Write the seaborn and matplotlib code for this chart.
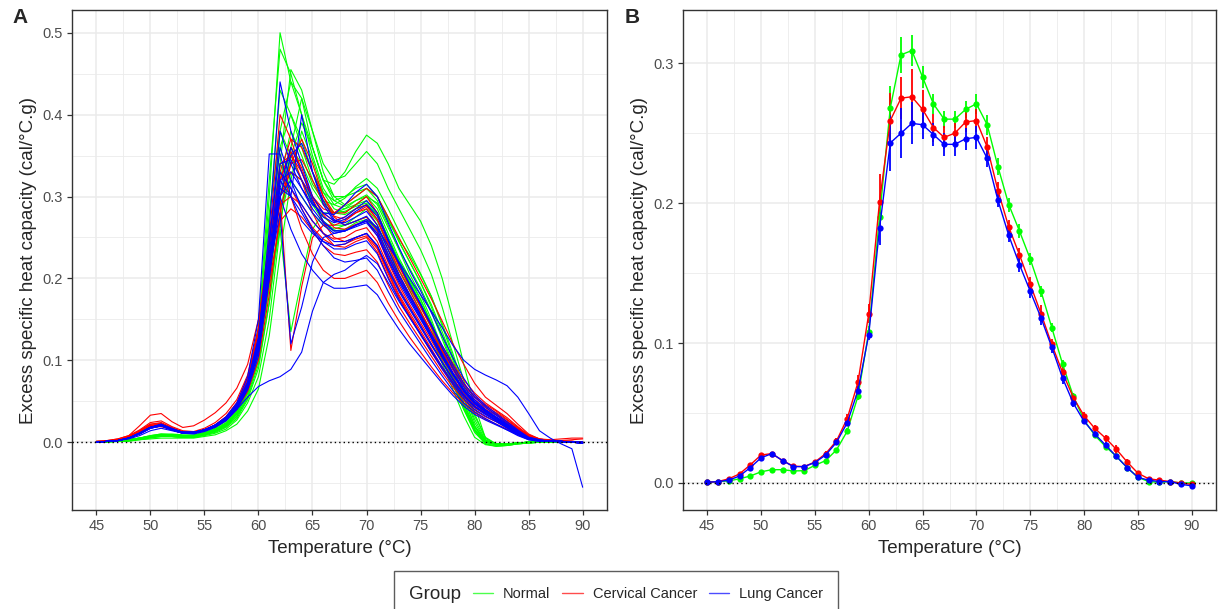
import matplotlib
matplotlib.use("Agg")
import numpy as np
import pandas as pd
import seaborn as sns
import matplotlib.pyplot as plt
from matplotlib.lines import Line2D
from matplotlib.ticker import MultipleLocator

# %%
temperature = list(range(45, 91))
groups = ["Normal", "Cervical Cancer", "Lung Cancer"]
palette = {"Normal": "#00FF00", "Cervical Cancer": "#FF0000", "Lung Cancer": "#0000FF"}

# panel A: single thermograms, excess cp x 1000, one value per degree 45..90
normal_curves = [
    [0, 1, 1, 2, 4, 6, 8, 7, 6, 6, 9, 13, 20, 35, 65, 130, 300, 500, 440, 400, 360, 320, 300, 300, 305, 310, 295, 265, 235, 205, 180, 150, 115, 80, 45, 15, -2, -5, -4, -2, -1, 0, 0, 0, 0, 0],
    [0, 1, 2, 3, 5, 7, 9, 9, 8, 8, 11, 15, 22, 36, 62, 110, 220, 380, 440, 420, 360, 320, 315, 330, 355, 375, 365, 340, 310, 290, 270, 240, 200, 150, 95, 45, 5, -3, -4, -2, -1, 0, 0, 0, 0, 0],
    [0, 1, 1, 2, 4, 6, 8, 8, 7, 7, 10, 14, 21, 35, 66, 140, 320, 480, 450, 400, 350, 310, 290, 285, 290, 295, 280, 250, 220, 195, 170, 140, 105, 72, 40, 12, -2, -4, -3, -1, 0, 0, 0, 0, 0, 0],
    [0, 1, 2, 3, 5, 8, 10, 10, 9, 9, 12, 16, 24, 38, 62, 105, 200, 340, 455, 430, 380, 340, 320, 325, 340, 355, 340, 310, 285, 260, 235, 205, 165, 120, 75, 35, 5, -3, -3, -2, -1, 0, 0, 0, 0, 0],
    [0, 0, 1, 2, 3, 5, 7, 7, 6, 6, 8, 11, 16, 27, 48, 80, 150, 260, 360, 420, 380, 330, 300, 290, 300, 310, 300, 275, 245, 220, 195, 165, 130, 95, 55, 20, 0, -3, -3, -1, 0, 0, 0, 0, 0, 0],
    [1, 1, 2, 3, 5, 8, 10, 9, 8, 8, 12, 17, 26, 42, 72, 140, 280, 380, 350, 320, 290, 270, 260, 265, 275, 285, 270, 240, 210, 185, 160, 130, 100, 70, 40, 15, 0, -2, -2, -1, 0, 0, 0, 0, 0, 0],
    [0, 1, 1, 2, 4, 6, 7, 7, 6, 6, 9, 13, 19, 31, 54, 95, 170, 270, 330, 320, 295, 275, 265, 265, 270, 275, 262, 235, 210, 188, 165, 140, 110, 80, 48, 18, 2, -2, -2, -1, 0, 0, 0, 0, 0, 0],
    [0, 1, 2, 3, 5, 7, 9, 9, 8, 8, 11, 15, 23, 37, 63, 105, 190, 260, 135, 200, 260, 280, 280, 285, 295, 300, 285, 255, 225, 200, 175, 145, 110, 75, 42, 14, 0, -3, -3, -1, 0, 0, 0, 0, 0, 0],
    [0, 1, 1, 2, 4, 6, 8, 8, 7, 7, 10, 14, 21, 34, 60, 110, 230, 360, 400, 370, 330, 305, 295, 300, 310, 315, 300, 272, 245, 220, 195, 168, 135, 100, 62, 28, 3, -3, -3, -1, 0, 0, 0, 0, 0, 0],
    [0, 0, 1, 1, 3, 4, 5, 5, 5, 5, 7, 9, 14, 22, 38, 65, 130, 230, 320, 380, 345, 305, 285, 280, 290, 300, 292, 270, 248, 228, 205, 178, 145, 108, 68, 32, 6, -2, -3, -1, 0, 0, 0, 0, 0, 0],
    [0, 1, 1, 2, 4, 6, 8, 8, 7, 7, 10, 14, 20, 32, 56, 100, 190, 300, 360, 340, 310, 290, 280, 282, 288, 292, 278, 250, 222, 198, 174, 146, 114, 82, 48, 16, 1, -2, -2, -1, 0, 0, 0, 0, 0, 0],
    [0, 1, 2, 3, 5, 7, 9, 9, 8, 8, 11, 15, 22, 36, 64, 125, 270, 430, 400, 360, 320, 295, 280, 278, 285, 290, 276, 248, 220, 195, 170, 142, 110, 78, 44, 14, 0, -3, -3, -1, 0, 0, 0, 0, 0, 0],
    [0, 1, 1, 2, 4, 6, 7, 7, 6, 6, 9, 12, 18, 29, 52, 90, 170, 280, 350, 390, 360, 320, 295, 288, 295, 302, 290, 262, 236, 212, 188, 160, 126, 92, 54, 20, 2, -2, -3, -1, 0, 0, 0, 0, 0, 0],
    [0, 1, 1, 2, 4, 6, 8, 8, 7, 7, 10, 14, 21, 34, 60, 115, 230, 340, 320, 300, 280, 265, 258, 260, 268, 272, 258, 230, 204, 180, 156, 128, 96, 64, 32, 6, -3, -5, -4, -2, -1, 0, 0, 0, 0, 0],
    [0, 1, 2, 3, 5, 7, 9, 9, 8, 8, 11, 15, 22, 35, 60, 105, 200, 320, 380, 350, 315, 295, 290, 298, 312, 322, 310, 285, 258, 232, 206, 178, 142, 104, 62, 24, 2, -3, -3, -1, 0, 0, 0, 0, 0, 0],
]
cervical_curves = [
    [1, 2, 4, 8, 20, 33, 35, 25, 18, 20, 27, 36, 48, 66, 95, 150, 240, 330, 370, 360, 330, 300, 280, 280, 290, 300, 280, 245, 215, 190, 165, 140, 115, 92, 72, 56, 46, 38, 28, 18, 8, 4, 3, 4, 5, 5],
    [0, 1, 3, 7, 14, 22, 23, 17, 12, 12, 15, 21, 30, 46, 75, 130, 250, 400, 370, 330, 300, 280, 270, 275, 285, 290, 272, 240, 210, 185, 160, 135, 110, 88, 68, 52, 42, 34, 25, 16, 7, 3, 2, 1, 1, 0],
    [1, 1, 3, 7, 13, 20, 21, 16, 12, 12, 15, 21, 30, 46, 74, 125, 220, 300, 112, 190, 250, 265, 265, 270, 280, 285, 265, 235, 205, 180, 158, 135, 112, 90, 70, 55, 44, 36, 27, 17, 8, 3, 2, 1, 1, 0],
    [0, 1, 3, 6, 12, 19, 20, 15, 11, 11, 14, 19, 27, 40, 62, 100, 180, 280, 340, 370, 340, 300, 275, 265, 270, 275, 258, 228, 200, 178, 155, 130, 105, 83, 63, 48, 38, 30, 22, 14, 6, 3, 2, 1, 0, 0],
    [0, 1, 3, 6, 13, 21, 22, 17, 12, 12, 15, 21, 31, 48, 78, 130, 230, 330, 300, 260, 230, 210, 200, 200, 205, 210, 195, 170, 148, 128, 110, 92, 75, 60, 47, 36, 28, 22, 16, 10, 5, 2, 1, 1, 0, 0],
    [0, 1, 3, 6, 12, 19, 20, 16, 12, 11, 14, 19, 27, 41, 66, 110, 200, 300, 330, 320, 300, 285, 280, 290, 300, 310, 300, 275, 250, 225, 200, 175, 148, 120, 95, 72, 55, 45, 35, 22, 10, 4, 2, 1, 1, 0],
    [0, 1, 3, 6, 13, 20, 21, 16, 12, 12, 15, 20, 29, 44, 70, 120, 210, 290, 300, 290, 270, 255, 248, 250, 258, 262, 245, 215, 188, 165, 143, 120, 98, 78, 60, 46, 37, 30, 22, 14, 6, 3, 2, 1, 0, -1],
    [0, 1, 2, 5, 11, 18, 19, 15, 11, 11, 14, 20, 29, 45, 72, 125, 230, 320, 355, 320, 280, 255, 240, 238, 245, 250, 232, 202, 176, 154, 132, 110, 90, 72, 56, 44, 36, 30, 24, 15, 7, 3, 2, 1, 0, -1],
    [0, 1, 3, 7, 14, 22, 24, 18, 13, 12, 15, 21, 31, 48, 78, 135, 240, 340, 350, 330, 300, 278, 262, 260, 266, 270, 252, 220, 192, 168, 146, 124, 102, 82, 63, 49, 40, 33, 25, 16, 7, 3, 2, 1, 1, 0],
    [0, 1, 3, 6, 12, 19, 20, 15, 11, 11, 14, 19, 28, 43, 70, 118, 215, 320, 360, 335, 298, 268, 250, 245, 250, 255, 238, 208, 180, 158, 136, 114, 92, 73, 56, 43, 35, 28, 21, 13, 6, 3, 2, 1, 0, 0],
    [1, 2, 4, 8, 15, 24, 26, 19, 14, 13, 17, 24, 35, 52, 82, 140, 250, 330, 310, 285, 262, 248, 240, 242, 248, 252, 236, 206, 178, 155, 133, 112, 91, 72, 55, 42, 34, 27, 20, 12, 5, 3, 2, 2, 3, 4],
    [0, 1, 3, 6, 12, 20, 21, 16, 12, 12, 15, 20, 29, 44, 70, 118, 210, 300, 340, 345, 320, 292, 276, 272, 280, 288, 272, 243, 215, 190, 166, 142, 118, 96, 76, 60, 48, 39, 30, 19, 9, 4, 2, 1, 1, 0],
    [0, 1, 3, 6, 13, 20, 21, 16, 12, 12, 15, 20, 29, 43, 68, 112, 195, 270, 285, 275, 258, 240, 230, 228, 232, 235, 220, 192, 166, 145, 125, 105, 85, 67, 51, 39, 31, 25, 18, 11, 5, 2, 1, 1, 0, -1],
]
lung_curves = [
    [0, 1, 2, 5, 11, 18, 22, 16, 12, 12, 15, 20, 29, 44, 70, 125, 260, 440, 380, 340, 300, 280, 270, 275, 285, 295, 280, 248, 218, 192, 168, 142, 115, 90, 68, 52, 40, 31, 22, 13, 5, 2, 1, 1, 0, -1],
    [0, 1, 2, 5, 10, 17, 20, 15, 11, 11, 14, 19, 27, 40, 64, 105, 200, 320, 300, 400, 330, 290, 270, 268, 275, 282, 265, 235, 205, 180, 156, 132, 108, 85, 65, 50, 39, 30, 21, 12, 5, 2, 1, 1, 0, 0],
    [0, 1, 2, 5, 11, 18, 21, 16, 12, 12, 15, 21, 31, 48, 80, 150, 352, 352, 300, 270, 255, 245, 240, 242, 250, 255, 240, 210, 184, 162, 140, 118, 97, 76, 58, 44, 35, 27, 19, 11, 4, 2, 1, 1, 0, -1],
    [0, 1, 2, 4, 8, 14, 17, 14, 11, 10, 13, 18, 26, 40, 55, 68, 75, 80, 89, 110, 160, 195, 205, 210, 220, 228, 218, 195, 172, 152, 132, 112, 92, 73, 56, 43, 34, 26, 18, 10, 4, 2, 1, 1, 0, 0],
    [0, 1, 2, 5, 10, 17, 20, 15, 11, 11, 14, 19, 27, 41, 66, 110, 200, 300, 320, 300, 280, 265, 255, 258, 265, 272, 262, 240, 220, 200, 180, 160, 140, 118, 100, 89, 82, 76, 69, 55, 35, 14, 5, -2, -8, -55],
    [0, 1, 2, 5, 11, 18, 21, 16, 12, 12, 15, 20, 29, 44, 70, 120, 220, 300, 260, 230, 210, 195, 188, 188, 190, 192, 180, 158, 138, 120, 104, 88, 72, 57, 44, 34, 27, 21, 15, 9, 4, 2, 1, 1, 0, -1],
    [0, 1, 2, 5, 10, 17, 20, 15, 11, 11, 14, 19, 28, 42, 68, 115, 210, 280, 120, 165, 220, 250, 255, 258, 265, 270, 255, 225, 198, 175, 152, 128, 104, 82, 62, 47, 37, 29, 20, 12, 5, 2, 1, 1, 0, -1],
    [0, 1, 2, 5, 11, 18, 21, 16, 12, 12, 15, 20, 29, 43, 68, 115, 210, 310, 360, 330, 295, 270, 258, 258, 265, 270, 255, 225, 198, 175, 152, 128, 105, 83, 64, 49, 39, 30, 21, 12, 5, 2, 1, 1, 0, -1],
    [0, 1, 2, 5, 11, 18, 21, 16, 12, 12, 15, 21, 30, 45, 72, 125, 240, 380, 340, 310, 290, 280, 278, 290, 305, 315, 300, 268, 238, 210, 185, 158, 130, 103, 78, 58, 45, 35, 25, 15, 6, 3, 1, 1, 0, 0],
    [0, 1, 2, 5, 11, 18, 21, 16, 12, 12, 15, 20, 29, 43, 70, 120, 220, 330, 310, 290, 270, 255, 245, 245, 250, 255, 240, 212, 186, 164, 142, 120, 98, 77, 58, 44, 35, 27, 18, 10, 4, 2, 1, 1, 0, -1],
    [0, 1, 2, 5, 11, 18, 21, 16, 12, 12, 15, 20, 29, 43, 69, 118, 215, 320, 330, 310, 285, 268, 258, 258, 263, 268, 252, 222, 195, 172, 150, 127, 104, 82, 62, 47, 37, 29, 20, 12, 5, 2, 1, 1, 0, 0],
    [0, 1, 2, 5, 10, 17, 20, 15, 11, 11, 14, 19, 28, 42, 67, 112, 205, 300, 350, 365, 330, 295, 272, 265, 270, 276, 260, 230, 202, 178, 155, 131, 107, 84, 64, 49, 38, 29, 20, 11, 4, 2, 1, 1, 0, -1],
    [0, 1, 2, 5, 11, 18, 22, 17, 12, 12, 15, 21, 30, 46, 74, 128, 245, 360, 320, 285, 260, 245, 236, 236, 242, 246, 230, 200, 174, 152, 131, 110, 89, 70, 53, 40, 32, 25, 17, 9, 3, 1, 1, 1, 0, -1],
    [0, 1, 2, 5, 11, 18, 21, 16, 12, 12, 15, 20, 29, 44, 70, 120, 220, 310, 300, 280, 258, 240, 225, 220, 222, 225, 210, 184, 160, 140, 120, 100, 81, 63, 48, 37, 29, 22, 15, 8, 3, 1, 1, 0, 0, -1],
    [0, 1, 2, 5, 11, 18, 21, 16, 12, 12, 15, 20, 29, 44, 71, 122, 230, 340, 345, 320, 292, 275, 268, 272, 282, 290, 276, 246, 218, 193, 169, 144, 118, 94, 72, 55, 43, 33, 23, 14, 6, 3, 1, 1, 0, 0],
]

# panel B: group mean and error, excess cp x 1000
normal_mean = [0.5, 1, 1.5, 3, 5, 8, 9.5, 9.5, 8.6, 8.8, 12.6, 16, 23.6, 37, 62,
               108, 190, 268, 306, 309, 290, 271, 260, 260, 267, 271, 256, 226, 199, 180,
               160, 137, 111, 85, 62, 45, 34, 26, 19, 11, 4, 1, 0.5, 1, 0, 0]
normal_err = [1, 1, 1, 1, 1, 1, 1, 1, 1, 1, 1, 1, 1.5, 2, 2.5,
              4, 8, 16, 13, 11, 8, 7, 6, 6, 6, 7, 7, 6, 5, 5,
              4, 4, 3, 3, 2.5, 2, 2, 2, 2, 1.5, 1, 1, 1, 1, 1, 1]
cervical_mean = [0.5, 1, 3, 6.5, 13, 20, 21, 16, 12, 11.7, 15, 21, 30, 46, 72,
                 121, 201, 259, 275, 276, 267, 254, 247, 250, 258, 259, 240, 209, 183, 163,
                 142, 121, 99, 79, 61, 48, 39, 32, 24, 15, 7, 3, 2, 1, 0, -1]
cervical_err = [1, 1, 1, 1, 1.5, 1.5, 1.5, 1, 1, 1, 1.5, 2, 2.5, 3, 5,
                7, 20, 20, 15, 20, 14, 10, 8, 7, 7, 8, 7, 6, 5, 5,
                5, 6, 4, 4, 3, 2.5, 2.5, 2.5, 3, 2, 1.5, 1, 1, 1, 1, 1]
lung_mean = [0.5, 1, 2, 5, 11, 18, 21, 16, 11.7, 11.7, 14.6, 20, 29, 43, 66,
             106, 182, 243, 250, 257, 256, 249, 242, 242, 246, 247, 232, 202, 177, 156,
             137, 118, 97, 75, 57, 44, 35, 27, 19, 11, 4, 2, 1, 1, -1, -2]
lung_err = [1, 1, 1, 1, 1, 1, 1, 1, 1, 1, 1, 1.5, 2, 2.5, 3,
            4, 12, 20, 18, 15, 10, 8, 8, 8, 8, 8, 6, 5, 5, 5,
            5, 5, 4, 4, 3, 2, 2, 2, 2, 2, 1, 1, 1, 1, 1, 1.5]

# %%
rows = []
for group, curves in zip(groups, [normal_curves, cervical_curves, lung_curves]):
    for i, curve in enumerate(curves):
        for t, v in zip(temperature, curve):
            rows.append((group, f"{group}_{i}", t, v / 1000))
df_a = pd.DataFrame(rows, columns=["Group", "Sample", "Temperature", "Cp"])

df_b = pd.concat([
    pd.DataFrame({"Group": g, "Temperature": temperature,
                  "Cp": np.array(m) / 1000, "Err": np.array(e) / 1000})
    for g, m, e in zip(groups, [normal_mean, cervical_mean, lung_mean],
                       [normal_err, cervical_err, lung_err])
], ignore_index=True)

sns.set_style("white")
plt.rcParams["font.family"] = ["Liberation Sans", "DejaVu Sans"]

fig = plt.figure(figsize=(12.25, 6.09), dpi=100)
ax_a = fig.add_axes([72 / 1225, 1 - 510 / 609, 535 / 1225, 500 / 609])
ax_b = fig.add_axes([683 / 1225, 1 - 510 / 609, 533 / 1225, 500 / 609])

sns.lineplot(data=df_a, x="Temperature", y="Cp", hue="Group", hue_order=groups,
             units="Sample", estimator=None, palette=palette, linewidth=0.8,
             legend=False, sort=False, ax=ax_a)

for g in groups:
    sub = df_b[df_b["Group"] == g]
    ax_b.vlines(sub["Temperature"], sub["Cp"] - sub["Err"], sub["Cp"] + sub["Err"],
                colors=palette[g], linewidth=1.3, zorder=3)
sns.lineplot(data=df_b, x="Temperature", y="Cp", hue="Group", hue_order=groups,
             palette=palette, marker="o", markersize=4.5, markeredgewidth=0,
             linewidth=1.0, legend=False, ax=ax_b, zorder=4)

for ax, ylim in [(ax_a, (-0.0828, 0.5278)), (ax_b, (-0.0193, 0.338))]:
    ax.axhline(0, color="black", linestyle=(0, (1, 2.2)), linewidth=1, zorder=5)
    ax.set_xlim(42.75, 92.25)
    ax.set_ylim(*ylim)
    ax.xaxis.set_major_locator(MultipleLocator(5))
    ax.xaxis.set_minor_locator(MultipleLocator(2.5))
    ax.yaxis.set_major_locator(MultipleLocator(0.1))
    ax.yaxis.set_minor_locator(MultipleLocator(0.05))
    ax.yaxis.set_major_formatter(matplotlib.ticker.FormatStrFormatter("%.1f"))
    ax.grid(which="major", color="#EBEBEB", linewidth=1.1)
    ax.grid(which="minor", color="#EBEBEB", linewidth=0.6)
    ax.set_axisbelow(True)
    for s in ax.spines.values():
        s.set_color("#333333")
        s.set_linewidth(1.0)
    ax.tick_params(which="major", length=3.5, width=0.9, color="#333333",
                   labelsize=10.5, labelcolor="#4D4D4D", pad=3, bottom=True, left=True)
    ax.tick_params(which="minor", length=0)
    ax.set_xlabel("Temperature (°C)", fontsize=13.5, labelpad=5)
    ax.set_ylabel("Excess specific heat capacity (cal/°C.g)", fontsize=13.5, labelpad=4)

fig.text(12 / 1225, 1 - 8 / 609, "A", fontsize=15, fontweight="bold", va="top")
fig.text(625 / 1225, 1 - 8 / 609, "B", fontsize=15, fontweight="bold", va="top")

handles = [Line2D([], [], color=palette[g], linewidth=1.0, alpha=0.7) for g in groups]
leg = fig.legend(handles, groups, loc="upper center", bbox_to_anchor=(0.503, 1 - 571 / 609),
                 ncol=3, title="Group", title_fontsize=13.5, fontsize=10.5,
                 frameon=True, fancybox=False, edgecolor="#333333",
                 handlelength=1.4, handletextpad=0.7, columnspacing=0.8,
                 borderpad=1.0, borderaxespad=0)
leg.get_frame().set_linewidth(1.0)
# put the title left of the keys, like ggplot
box = leg.get_children()[0]
title_box, handle_box = box.get_children()[0], box.get_children()[1]
box._children = [handle_box]
handle_box._children = [title_box] + handle_box.get_children()
handle_box.align = "center"

fig.savefig("out.png", dpi=100)
